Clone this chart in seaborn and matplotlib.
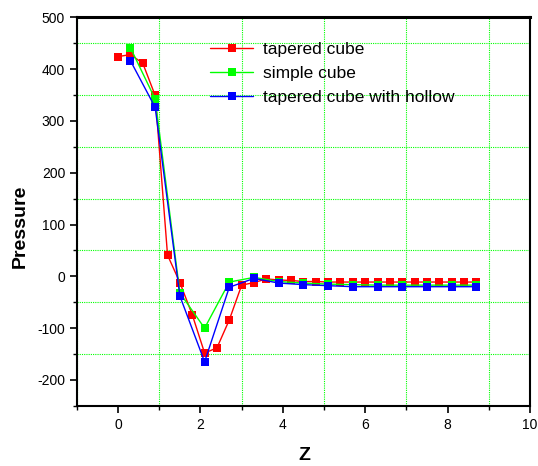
import numpy as np
import pandas as pd
import seaborn as sns
import matplotlib.pyplot as plt
from matplotlib.ticker import MultipleLocator

# values
z_tapered = [0.0, 0.3, 0.6, 0.9, 1.2, 1.5, 1.8, 2.1, 2.4, 2.7,
             3.0, 3.3, 3.6, 3.9, 4.2, 4.5, 4.8, 5.1, 5.4, 5.7,
             6.0, 6.3, 6.6, 6.9, 7.2, 7.5, 7.8, 8.1, 8.4, 8.7]
p_tapered = [424, 428, 411, 349, 41, -12, -74, -148, -138, -84,
             -17, -12, -5, -7, -8, -10, -10, -11, -11, -11,
             -11, -11, -11, -11, -11, -11, -11, -11, -11, -11]

z_coarse = [0.3, 0.9, 1.5, 2.1, 2.7, 3.3, 3.9, 4.5, 5.1, 5.7,
            6.3, 6.9, 7.5, 8.1, 8.7]
p_simple = [441, 342, -32, -100, -11, -2, -10, -13, -15, -16,
            -17, -17, -17, -17, -17]
p_hollow = [416, 326, -38, -165, -21, -4, -13, -16, -18, -20,
            -20, -20, -20, -20, -20]

sns.set_style('white')
plt.rcParams['font.family'] = ['Liberation Sans', 'DejaVu Sans']
plt.rcParams['axes.unicode_minus'] = False
plt.rcParams['text.color'] = 'black'
plt.rcParams['axes.labelcolor'] = 'black'
plt.rcParams['xtick.color'] = 'black'
plt.rcParams['ytick.color'] = 'black'

fig = plt.figure(figsize=(5.38, 4.66), dpi=100)
ax = fig.add_axes([0.143, 0.129, 0.842, 0.834])

series = [
    ('tapered cube', z_tapered, p_tapered, '#ff0000'),
    ('simple cube', z_coarse, p_simple, '#00ff00'),
    ('tapered cube with hollow', z_coarse, p_hollow, '#0000ff'),
]
for name, z, p, col in series:
    df = pd.DataFrame({'Z': z, 'Pressure': p})
    sns.lineplot(data=df, x='Z', y='Pressure', ax=ax, color=col, label=name,
                 marker='s', markersize=5.5, markeredgewidth=0, linewidth=1)

ax.set_xlim(-1, 10)
ax.set_ylim(-250, 500)
ax.xaxis.set_major_locator(MultipleLocator(2))
ax.xaxis.set_minor_locator(MultipleLocator(1))
ax.yaxis.set_major_locator(MultipleLocator(100))
ax.yaxis.set_minor_locator(MultipleLocator(50))
ax.grid(False)
ax.grid(which='minor', color='#00ff00', linestyle=(0, (1, 1)), linewidth=0.8)
ax.tick_params(which='major', direction='out', length=5, width=1.2,
               labelsize=10, colors='black', left=True, bottom=True)
ax.tick_params(which='minor', direction='out', length=3, width=1,
               colors='black', left=True, bottom=True)

for side in ['left', 'bottom', 'right']:
    ax.spines[side].set_linewidth(1.5)
    ax.spines[side].set_color('black')
ax.spines['top'].set_linewidth(2.2)
ax.spines['top'].set_color('black')

ax.set_xlabel('')
ax.set_ylabel('')
fig.text(304 / 538, 1 - 455 / 466, 'Z', fontsize=14, fontweight='bold',
         ha='center', va='center')
fig.text(20 / 538, 1 - 226 / 466, 'Pressure', fontsize=14, fontweight='bold',
         ha='center', va='center', rotation=90)

ax.legend(loc='upper left', bbox_to_anchor=(210 / 538, 1 - 42 / 466),
          bbox_transform=fig.transFigure, frameon=False, fontsize=12.5,
          borderpad=0, borderaxespad=0, handlelength=2.5, handletextpad=0.55,
          labelspacing=0.5)

fig.savefig('out.png', dpi=100)
